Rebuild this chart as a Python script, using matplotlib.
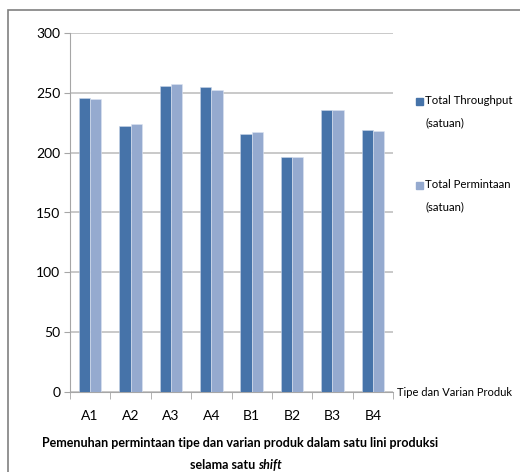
import matplotlib.pyplot as plt
import numpy as np
from matplotlib.patches import Rectangle

plt.rcParams['font.family'] = ['Lato', 'Liberation Sans', 'DejaVu Sans']

# data
kategori = ['A1', 'A2', 'A3', 'A4', 'B1', 'B2', 'B3', 'B4']
throughput = [246, 222, 256, 255, 216, 196, 236, 219]
permintaan = [245, 224, 257, 252, 217, 196, 236, 218]
y_ticks = [0, 50, 100, 150, 200, 250, 300]
nama_seri = ['Total Throughput', 'Total Permintaan']

warna_gelap = '#4673A9'
warna_terang = '#95AACF'
abu = '#A6A6A6'

W, H = 520, 472
fig = plt.figure(figsize=(W / 100, H / 100), dpi=100)

# frame around the chart
fig.patches.append(Rectangle((8 / W, -0.01), 1.0, 1 - 10 / H + 0.01,
                             transform=fig.transFigure, fill=False,
                             edgecolor='#808080', linewidth=1.2))

ax = fig.add_axes([70 / W, 1 - 392 / H, (393 - 70) / W, (392 - 33) / H])

x = np.arange(len(kategori))
lebar = 0.28
ax.bar(x - lebar / 2, throughput, lebar, color=warna_gelap,
       edgecolor='#C9D5E8', linewidth=0.4, zorder=3)
ax.bar(x + lebar / 2, permintaan, lebar, color=warna_terang,
       edgecolor='#DCE4F1', linewidth=0.4, zorder=3)

ax.set_xlim(-0.5, len(kategori) - 0.5)
ax.set_ylim(0, 300)
ax.set_yticks(y_ticks)
ax.set_yticklabels([str(v) for v in y_ticks], fontsize=10)
ax.yaxis.grid(True, color='#C0C0C0', linewidth=1.2, zorder=0)

ax.set_xticks(x)
ax.set_xticklabels(kategori, fontsize=10)
ax.set_xticks(np.arange(-0.5, len(kategori)), minor=True)
ax.tick_params(axis='x', which='major', length=0, pad=13)
ax.tick_params(axis='x', which='minor', length=5, color=abu)
ax.tick_params(axis='y', length=4, color=abu, pad=3)

for s in ['top', 'right']:
    ax.spines[s].set_visible(False)
ax.spines['left'].set_color(abu)
ax.spines['bottom'].set_color(abu)

# legend: square beside the first line, "(satuan)" on the second line
for i, (nama, warna) in enumerate(zip(nama_seri, [warna_gelap, warna_terang])):
    y0 = 101 + i * 84
    fig.patches.append(Rectangle((416 / W, 1 - (y0 + 4) / H), 7 / W, 7 / H,
                                 transform=fig.transFigure, color=warna))
    fig.text(425 / W, 1 - y0 / H, nama, fontsize=8.2, ha='left', va='center')
    fig.text(425 / W, 1 - (y0 + 22) / H, '(satuan)', fontsize=8.2,
             ha='left', va='center')

fig.text(397 / W, 1 - 393 / H, 'Tipe dan Varian Produk', fontsize=8.0,
         ha='left', va='center')

fig.text(240 / W, 1 - 443 / H,
         'Pemenuhan permintaan tipe dan varian produk dalam satu lini produksi',
         fontsize=9, fontweight='bold', ha='center', va='center')
fig.text(258 / W, 1 - 465 / H, 'selama satu ', fontsize=9, fontweight='bold',
         ha='right', va='center')
fig.text(258 / W, 1 - 465 / H, 'shift', fontsize=9, fontweight='bold',
         style='italic', ha='left', va='center')

plt.savefig('out.png', dpi=100)
